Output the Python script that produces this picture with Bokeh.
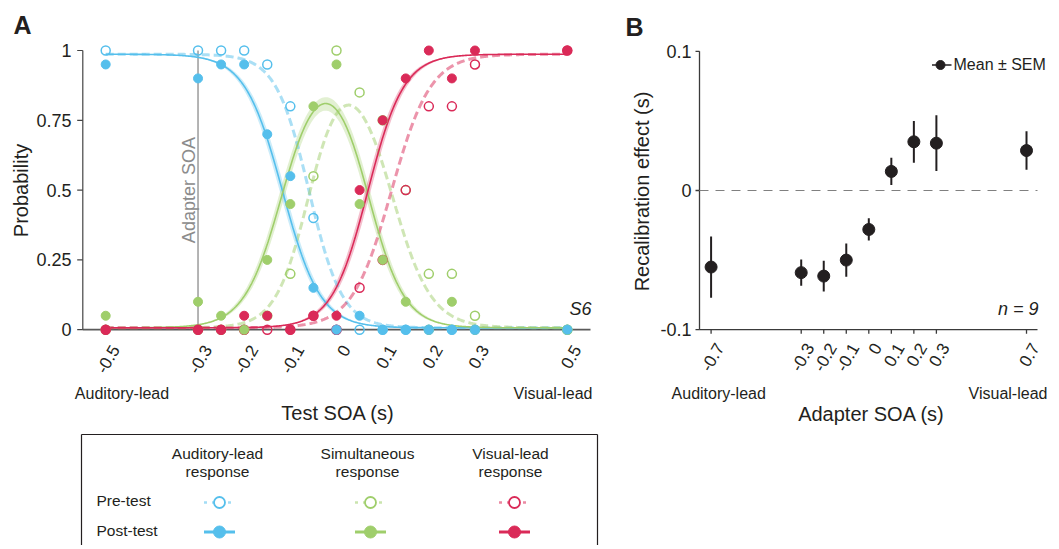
import numpy as np
from bokeh.plotting import figure
from bokeh.models import Range1d, FixedTicker, LinearAxis
from bokeh.layouts import row, column
from bokeh.embed import file_html
from bokeh.resources import INLINE
from bokeh.core.properties import value

# ------------------------------------------------------------------ data
test_soa = [-0.5, -0.3, -0.25, -0.2, -0.15, -0.1, -0.05, 0, 0.05, 0.1, 0.15, 0.2, 0.25, 0.3, 0.5]
aud_pre  = [1, 1, 1, 1, 0.95, 0.8, 0.4, 0, 0, 0, 0, 0, 0, 0, 0]
aud_post = [0.95, 0.9, 0.95, 0.95, 0.7, 0.55, 0.15, 0, 0.05, 0, 0, 0, 0, 0, 0]
sim_pre  = [0, 0, 0, 0, 0.05, 0.2, 0.55, 1, 0.85, 0.75, 0.5, 0.2, 0.2, 0.05, 0]
sim_post = [0.05, 0.1, 0.05, 0, 0.25, 0.45, 0.8, 0.95, 0.45, 0.25, 0.1, 0, 0.1, 0, 0]
vis_pre  = [0, 0, 0, 0, 0, 0, 0.05, 0, 0.15, 0.25, 0.5, 0.8, 0.8, 0.95, 1]
vis_post = [0, 0, 0, 0.05, 0.05, 0, 0.05, 0.05, 0.5, 0.75, 0.9, 1, 0.9, 1, 1]

xtick_vals_a = [-0.5, -0.3, -0.2, -0.1, 0, 0.1, 0.2, 0.3, 0.5]
xtick_labels_a = ["-0.5", "-0.3", "-0.2", "-0.1", "0", "0.1", "0.2", "0.3", "0.5"]
ytick_vals_a = [0, 0.25, 0.5, 0.75, 1]
ytick_labels_a = ["0", "0.25", "0.5", "0.75", "1"]

# fitted psychometric model (boundary, slope)
fit_bounds_pre = [-0.0595, 0.119]
fit_slopes_pre = [0.036, 0.0425]
fit_bounds_post = [-0.117, 0.068]
fit_slopes_post = [0.041, 0.039]
fit_lapse = 0.02
fit_ci = 0.006

adapter_soa = [-0.7, -0.3, -0.2, -0.1, 0, 0.1, 0.2, 0.3, 0.7]
recal_mean = [-0.055, -0.059, -0.0615, -0.050, -0.028, 0.0137, 0.035, 0.034, 0.0287]
recal_sem = [0.022, 0.0095, 0.011, 0.012, 0.008, 0.0098, 0.015, 0.020, 0.0138]
xtick_labels_b = ["-0.7", "-0.3", "-0.2", "-0.1", "0", "0.1", "0.2", "0.3", "0.7"]
ytick_vals_b = [-0.1, 0, 0.1]
ytick_labels_b = ["-0.1", "0", "0.1"]

lead_labels = ["Auditory-lead", "Visual-lead"]
legend_cols = ["Auditory-lead\nresponse", "Simultaneous\nresponse", "Visual-lead\nresponse"]
legend_rows = ["Pre-test", "Post-test"]

# ------------------------------------------------------------------ style
FONT = "Liberation Sans"
INK = "#231f20"
BLUE = "#55bfec"
GREEN = "#9fce6b"
RED = "#da2a58"
COLORS = [BLUE, GREEN, RED]


def logistic(x, b, s):
    return 1.0 / (1.0 + np.exp(-(x - b) / s))


def model(x, bounds, slopes, lapse):
    a = 1 - logistic(x, bounds[0], slopes[0])
    v = logistic(x, bounds[1], slopes[1])
    s = np.clip(1 - a - v, 0, 1)
    k = lapse / 3.0
    return [k + (1 - lapse) * a, k + (1 - lapse) * s, k + (1 - lapse) * v]


xs = np.linspace(min(test_soa), max(test_soa), 600)
pre_curves = model(xs, fit_bounds_pre, fit_slopes_pre, fit_lapse)
post_curves = model(xs, fit_bounds_post, fit_slopes_post, fit_lapse)
combos = []
for d1 in (-fit_ci, fit_ci):
    for d2 in (-fit_ci, fit_ci):
        combos.append(model(xs, [fit_bounds_post[0] + d1, fit_bounds_post[1] + d2],
                            fit_slopes_post, fit_lapse))
band_lo = [np.min([c[i] for c in combos], axis=0) for i in range(3)]
band_hi = [np.max([c[i] for c in combos], axis=0) for i in range(3)]


def style_axis(ax, tick_size="18px"):
    ax.axis_line_color = None
    ax.major_tick_line_color = None
    ax.minor_tick_line_color = None
    ax.major_tick_out = 0
    ax.major_tick_in = 0
    ax.major_label_text_font = FONT
    ax.major_label_text_font_size = tick_size
    ax.major_label_text_color = INK
    ax.axis_label_text_font = FONT
    ax.axis_label_text_font_size = "20px"
    ax.axis_label_text_font_style = "normal"
    ax.axis_label_text_color = INK


def add_text(p, x, y, t, size, align="left", style="normal", color=INK, angle=0.0):
    p.text(x=x, y=y, text=t, text_align=align, text_baseline="middle", angle=angle,
           text_font=value(FONT), text_font_size=size, text_font_style=style, text_color=color)


# ------------------------------------------------------------------ panel A
SXA, X0A = 461.6, 336.0      # px per unit, px of x=0
SYA, Y0A = 279.2, 329.2      # px per unit, px of y=0
fxA = lambda px: (px - X0A) / SXA
fyA = lambda py: (Y0A - py) / SYA

pA = figure(width=605, height=428, x_range=Range1d(fxA(75), fxA(600)),
            y_range=Range1d(fyA(338), fyA(42)),
            output_backend="svg", toolbar_location=None,
            min_border_left=75, min_border_right=5, min_border_top=42, min_border_bottom=90)
pA.outline_line_color = None
pA.grid.visible = False
pA.title.text = "A"
pA.title.text_font = FONT
pA.title.text_font_size = "25px"
pA.title.text_font_style = "bold"
pA.title.text_color = INK
pA.title.align = "left"
pA.title.offset = -62
pA.title.standoff = 8

ya = pA.yaxis[0]
style_axis(ya)
ya.ticker = FixedTicker(ticks=ytick_vals_a)
ya.major_label_overrides = {float(v): t for v, t in zip(ytick_vals_a, ytick_labels_a)}
ya.major_label_standoff = 4
ya.axis_label = "Probability"
ya.axis_label_standoff = 1

# rotated tick labels (anchored at their end, a little right of each tick)
xa = pA.xaxis[0]
style_axis(xa, "17px")
shift_a = [v + 9.5 / SXA for v in xtick_vals_a]
xa.ticker = FixedTicker(ticks=shift_a)
xa.major_label_overrides = {float(v): t for v, t in zip(shift_a, xtick_labels_a)}
xa.major_label_orientation = np.pi / 3
xa.major_label_standoff = 8

lead_pos_a = [fxA(121.5), fxA(552.5)]
xa2 = LinearAxis(ticker=FixedTicker(ticks=lead_pos_a),
                 major_label_overrides={float(v): t for v, t in zip(lead_pos_a, lead_labels)})
style_axis(xa2, "16px")
xa2.major_label_standoff = 4
xa2.axis_label = "Test SOA (s)"
xa2.axis_label_standoff = -3
pA.add_layout(xa2, "below")

# spines and ticks
x_left, x_right = fxA(82.3), fxA(590)
pA.segment(x0=[x_left], y0=[0], x1=[x_right], y1=[0], line_color="#5a5a5a", line_width=1.8)
pA.segment(x0=[x_left], y0=[0], x1=[x_left], y1=[1], line_color="#444444", line_width=1.2)
pA.segment(x0=xtick_vals_a, y0=[0] * len(xtick_vals_a), x1=xtick_vals_a,
           y1=[-3.5 / SYA] * len(xtick_vals_a), line_color="#5a5a5a", line_width=1.2)
pA.segment(x0=[x_left] * len(ytick_vals_a), y0=ytick_vals_a,
           x1=[x_left - 5.6 / SXA] * len(ytick_vals_a), y1=ytick_vals_a,
           line_color="#444444", line_width=1.2)

# adapter SOA marker line
adapter_a = -0.3
pA.segment(x0=[adapter_a], y0=[0], x1=[adapter_a], y1=[1], line_color="#8c8c8c", line_width=1.3)
add_text(pA, [adapter_a - 9.5 / SXA], [0.5], ["Adapter SOA"], "18px", align="center",
         color="#8c8c8c", angle=np.pi / 2)

# fitted curves
for i, c in enumerate(COLORS):
    pA.varea(x=xs, y1=band_lo[i], y2=band_hi[i], fill_color=c, fill_alpha=0.3)
for i, c in enumerate(COLORS):
    pA.line(xs, pre_curves[i], line_color=c, line_alpha=0.5, line_width=3, line_dash="8 4")
for i, c in enumerate(COLORS):
    pA.line(xs, post_curves[i], line_color=c, line_width=1.6)

# data points
for vals, c in zip([aud_pre, sim_pre, vis_pre], COLORS):
    pA.scatter(test_soa, vals, marker="circle", size=9, fill_color=None, line_color=c, line_width=1.5)
for vals, c in zip([sim_post, vis_post, aud_post], [GREEN, RED, BLUE]):
    pA.scatter(test_soa, vals, marker="circle", size=9, fill_color=c, line_color=c, line_width=1)

add_text(pA, [fxA(591)], [fyA(308.7)], ["S6"], "18px", align="right", style="italic")

# ------------------------------------------------------------------ legend box (screen-like coords)
pL = figure(width=605, height=117, x_range=Range1d(75, 600), y_range=Range1d(545, 428),
            x_axis_type=None, y_axis_type=None, output_backend="svg", toolbar_location=None,
            min_border_left=75, min_border_right=5, min_border_top=0, min_border_bottom=0)
pL.outline_line_color = None
pL.grid.visible = False
pL.segment(x0=[81, 81, 597], y0=[434, 434, 434], x1=[597, 81, 597], y1=[434, 550, 550],
           line_color=INK, line_width=1.2)
head_x = [217, 367, 510]
mark_x = [219, 370, 514]
l1 = [s.split("\n")[0] for s in legend_cols]
l2 = [s.split("\n")[1] for s in legend_cols]
add_text(pL, head_x, [452.5] * 3, l1, "15.5px", align="center")
add_text(pL, head_x, [471] * 3, l2, "15.5px", align="center")
add_text(pL, [96, 96], [499.7, 529.7], legend_rows, "15.5px", align="left")
for mx, c in zip(mark_x, COLORS):
    pL.segment(x0=[mx - 15.5], y0=[502], x1=[mx + 15.5], y1=[502], line_color=c,
               line_alpha=0.55, line_width=2.5, line_dash="3 5")
    pL.scatter([mx], [502], marker="circle", size=11, fill_color="white", line_color=c,
               line_width=1.8)
    pL.segment(x0=[mx - 15.5], y0=[531.5], x1=[mx + 15.5], y1=[531.5], line_color=c, line_width=3)
    pL.scatter([mx], [531.5], marker="circle", size=12, fill_color=c, line_color=c)

# ------------------------------------------------------------------ panel B
SXB, X0B = 225.3, 868.3
SYB, Y0B = 1392.0, 190.0
fxB = lambda px: (px - X0B) / SXB
fyB = lambda py: (Y0B - py) / SYB

pB = figure(width=450, height=545, x_range=Range1d(fxB(692), fxB(1050)),
            y_range=Range1d(fyB(335), fyB(47)),
            output_backend="svg", toolbar_location=None,
            min_border_left=87, min_border_right=5, min_border_top=47, min_border_bottom=210)
pB.outline_line_color = None
pB.grid.visible = False
pB.title.text = "B"
pB.title.text_font = FONT
pB.title.text_font_size = "25px"
pB.title.text_font_style = "bold"
pB.title.text_color = INK
pB.title.align = "left"
pB.title.offset = -67
pB.title.standoff = 13

yb = pB.yaxis[0]
style_axis(yb)
yb.ticker = FixedTicker(ticks=ytick_vals_b)
yb.major_label_overrides = {float(v): t for v, t in zip(ytick_vals_b, ytick_labels_b)}
yb.major_label_standoff = 1
yb.axis_label = "Recalibration effect (s)"
yb.axis_label_standoff = 4

xb = pB.xaxis[0]
style_axis(xb, "17px")
shift_b = [v + 8.6 / SXB for v in adapter_soa]
xb.ticker = FixedTicker(ticks=shift_b)
xb.major_label_overrides = {float(v): t for v, t in zip(shift_b, xtick_labels_b)}
xb.major_label_orientation = np.pi / 3
xb.major_label_standoff = 9

lead_pos_b = [fxB(718.2), fxB(1007.5)]
xb2 = LinearAxis(ticker=FixedTicker(ticks=lead_pos_b),
                 major_label_overrides={float(v): t for v, t in zip(lead_pos_b, lead_labels)})
style_axis(xb2, "16px")
xb2.major_label_standoff = 6
xb2.axis_label = "Adapter SOA (s)"
xb2.axis_label_standoff = -2
pB.add_layout(xb2, "below")

SPB = "#3a3a3a"
xl_b, xr_b = fxB(699), fxB(1037)
ybot = min(ytick_vals_b)
ytop = max(ytick_vals_b)
pB.segment(x0=[xl_b], y0=[ybot], x1=[xr_b], y1=[ybot], line_color=SPB, line_width=1.3)
pB.segment(x0=[xl_b], y0=[ybot], x1=[xl_b], y1=[ytop], line_color=SPB, line_width=1.3)
pB.segment(x0=adapter_soa, y0=[ybot] * len(adapter_soa), x1=adapter_soa,
           y1=[ybot - 4 / SYB] * len(adapter_soa), line_color=SPB, line_width=1.3)
pB.segment(x0=[xl_b] * len(ytick_vals_b), y0=ytick_vals_b, x1=[xl_b - 4 / SXB] * len(ytick_vals_b),
           y1=ytick_vals_b, line_color=SPB, line_width=1.3)

pB.segment(x0=[xl_b], y0=[0], x1=[xr_b], y1=[0], line_color="#808080", line_width=1.2,
           line_dash="9 7")
lo = [m - s for m, s in zip(recal_mean, recal_sem)]
hi = [m + s for m, s in zip(recal_mean, recal_sem)]
pB.segment(x0=adapter_soa, y0=lo, x1=adapter_soa, y1=hi, line_color=INK, line_width=2)
pB.scatter(adapter_soa, recal_mean, marker="circle", size=12, fill_color=INK, line_color=INK)

# legend "Mean ± SEM"
pB.segment(x0=[fxB(931.5)], y0=[fyB(64.5)], x1=[fxB(951)], y1=[fyB(64.5)], line_color=INK, line_width=1.5)
pB.scatter([fxB(940)], [fyB(64.5)], marker="circle", size=9, fill_color=INK, line_color=INK)
add_text(pB, [fxB(953)], [fyB(64.4)], ["Mean ± SEM"], "16px", align="left")
add_text(pB, [fxB(1038)], [fyB(308.7)], ["n = 9"], "18px", align="right", style="italic")

layout = row(column(pA, pL), pB)
open("out.html", "w").write(file_html(layout, INLINE, "Recalibration"))
